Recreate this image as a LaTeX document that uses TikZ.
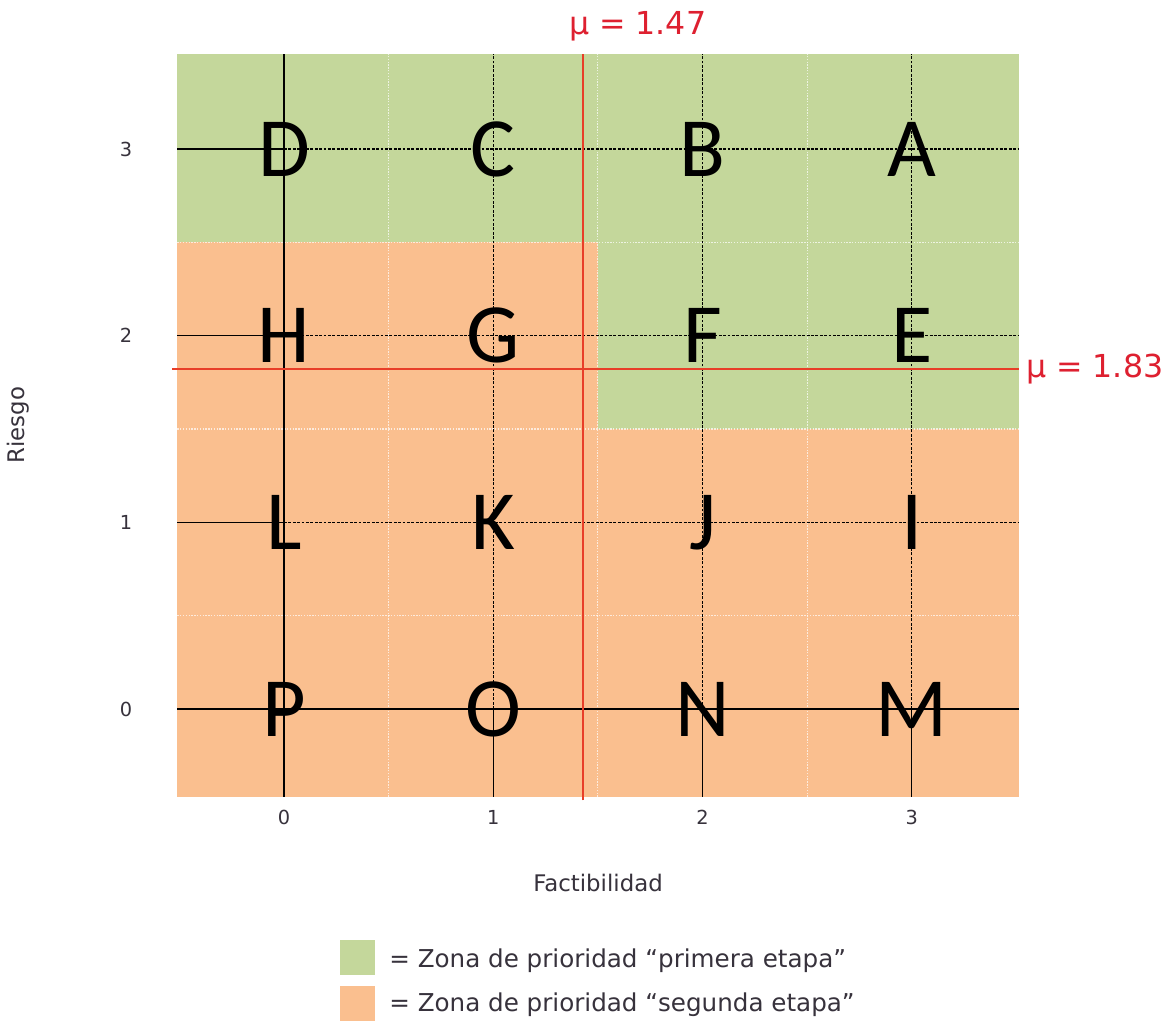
\documentclass[tikz,border=0pt]{standalone}
\usepackage{fontspec}
\setmainfont{DejaVu Sans}
\newfontfamily\bigfont{Carlito}
\begin{document}
\begin{tikzpicture}[
  x=0.02cm, y=-0.02cm,
  zonegreen/.style={fill=cgreen},
  zoneorange/.style={fill=corange},
  letterlbl/.style={font=\bigfont\fontsize{48}{48}\selectfont, text=black, inner sep=0pt},
  ticklbl/.style={font=\fontsize{11}{11}\selectfont, text=txtgray, inner sep=0pt},
  axislbl/.style={font=\fontsize{13}{13}\selectfont, text=txtgray, inner sep=0pt},
  mulbl/.style={font=\fontsize{18}{18}\selectfont, text=cred, inner sep=0pt},
  legendlbl/.style={font=\fontsize{14}{14}\selectfont, text=txtgray, inner sep=0pt, anchor=west},
  majsolid/.style={black, line width=0.6pt},
  majdash/.style={black, line width=0.7pt, dash pattern=on 1.6pt off 0.9pt},
  minorgrid/.style={white, line width=0.6pt, dash pattern=on 0.8pt off 0.8pt, opacity=0.7},
  redline/.style={cred2, line width=0.9pt}
]
\definecolor{cgreen}{RGB}{196,215,155}
\definecolor{corange}{RGB}{250,191,143}
\definecolor{cred}{RGB}{222,32,48}
\definecolor{cred2}{RGB}{232,62,40}
\definecolor{txtgray}{RGB}{55,50,60}
\useasboundingbox (0,0) rectangle (1176,1022);
\fill[white] (0,0) rectangle (1176,1022);
\begin{scope}[shift={(284,709)}, x=4.186cm, y=3.734cm]
  % zones
  \fill[zoneorange] (-0.51,-0.47) rectangle (3.51,3.51);
  \fill[zonegreen] (-0.51,2.5) rectangle (3.51,3.51);
  \fill[zonegreen] (1.5,1.5) rectangle (3.51,2.5);
  % minor grid
  \foreach \v in {0.5,1.5,2.5} {
    \draw[minorgrid] (\v,-0.47) -- (\v,3.51);
    \draw[minorgrid] (-0.51,\v) -- (3.51,\v);
  }
  % major grid
  \foreach \v in {1,2,3} {
    \draw[majdash] (\v,0) -- (\v,3.51);
    \draw[majsolid] (\v,-0.47) -- (\v,0);
    \draw[majdash] (0,\v) -- (3.51,\v);
    \draw[majsolid] (-0.51,\v) -- (0,\v);
  }
  \draw[majsolid] (0,-0.47) -- (0,3.51);
  \draw[majsolid] (-0.51,0) -- (3.51,0);
  % red mean lines
  \coordinate (vtop) at (1.43,3.51);
  \coordinate (vbot) at (1.43,-0.49);
  \coordinate (hleft) at (-0.535,1.82);
  \coordinate (hright) at (3.51,1.82);
  \draw[redline] (vbot) -- (vtop);
  \draw[redline] (hleft) -- (hright);
  \node[mulbl] (mux) at (1.69,3.655) {μ = 1.47};
  \node[mulbl, anchor=west] (muy) at (3.545,1.82) {μ = 1.83};
  % letters
  \node[letterlbl] (D) at (0,3) {D};
  \node[letterlbl] (C) at (1,3) {C};
  \node[letterlbl] (B) at (2,3) {B};
  \node[letterlbl] (A) at (3,3) {A};
  \node[letterlbl] (H) at (0,2) {H};
  \node[letterlbl] (G) at (1,2) {G};
  \node[letterlbl] (F) at (2,2) {F};
  \node[letterlbl] (E) at (3,2) {E};
  \node[letterlbl] (L) at (0,1) {L};
  \node[letterlbl] (K) at (1,1) {K};
  \node[letterlbl] (J) at (2,1) {J};
  \node[letterlbl] (I) at (3,1) {I};
  \node[letterlbl] (P) at (0,0) {P};
  \node[letterlbl] (O) at (1,0) {O};
  \node[letterlbl] (N) at (2,0) {N};
  \node[letterlbl] (M) at (3,0) {M};
  % ticks
  \foreach \v in {0,1,2,3} {
    \node[ticklbl] (xt\v) at (\v,-0.58) {\v};
    \node[ticklbl] (yt\v) at (-0.755,\v) {\v};
  }
\end{scope}
\node[axislbl] (xlab) at (598,883) {Factibilidad};
\node[axislbl, rotate=90] (ylab) at (18,425) {Riesgo};
% legend
\fill[cgreen] (340,940) rectangle (375,975);
\fill[corange] (340,986) rectangle (375,1021);
\node[legendlbl] (lg1) at (389,961) {= Zona de prioridad “primera etapa”};
\node[legendlbl] (lg2) at (389,1005) {= Zona de prioridad “segunda etapa”};
\end{tikzpicture}
\end{document}
